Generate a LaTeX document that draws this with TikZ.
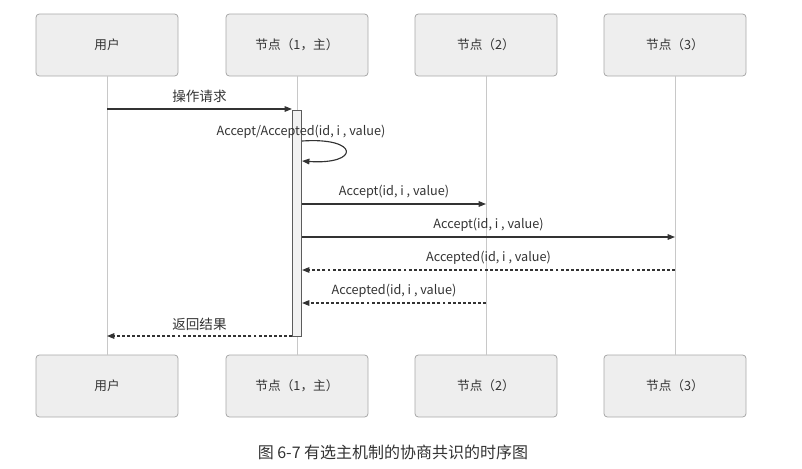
\documentclass[tikz,border=0pt]{standalone}
\usepackage{fontspec}
\setmainfont{Noto Sans CJK SC}
\usetikzlibrary{arrows.meta}
\definecolor{boxfill}{HTML}{EEEEEE}
\definecolor{boxline}{HTML}{A8A8A8}
\definecolor{lifeline}{HTML}{C8C8C8}
\definecolor{ink}{HTML}{333333}
\definecolor{barfill}{HTML}{F2F2F2}
\begin{document}
\begin{tikzpicture}[x=0.75pt,y=-0.75pt,
  actor/.style={draw=boxline,fill=boxfill,rounded corners=2.5pt,line width=0.6pt,
    minimum width=106.5pt,minimum height=46.5pt,inner sep=0pt,
    font=\fontsize{9.5}{11}\selectfont,text=ink},
  life/.style={draw=lifeline,line width=0.6pt},
  bar/.style={draw=ink!80,fill=barfill,line width=0.6pt,minimum width=7pt,inner sep=0pt},
  msg/.style={draw=ink,line width=0.85pt,-{Triangle[length=5.5pt,width=4.2pt]}},
  reply/.style={msg,dash pattern=on 2.2pt off 1.6pt},
  lbl/.style={font=\fontsize{9.5}{11}\selectfont,text=ink,inner sep=0pt},
  cnlbl/.style={font=\fontsize{10.2}{12}\selectfont,text=ink,inner sep=0pt}]
\useasboundingbox (0,0) rectangle (802,468);

% participants, top and bottom
\node[actor] (u1) at (107,45) {用户};
\node[actor] (n1) at (297,45) {节点（1，主）};
\node[actor] (n2) at (486,45) {节点（2）};
\node[actor] (n3) at (675,45) {节点（3）};
\node[actor] (u1b) at (107,386) {用户};
\node[actor] (n1b) at (297,386) {节点（1，主）};
\node[actor] (n2b) at (486,386) {节点（2）};
\node[actor] (n3b) at (675,386) {节点（3）};

% lifelines
\draw[life] (u1) -- (u1b);
\draw[life] (n1) -- (n1b);
\draw[life] (n2) -- (n2b);
\draw[life] (n3) -- (n3b);

% activation of the leader
\node[bar,minimum height=169.5pt,anchor=north] (act) at (297,110) {};

% request from the user
\draw[msg] (u1 |- 0,109) -- node[cnlbl,above=4pt] {操作请求} (act.west |- 0,109);

% self call on the leader
\coordinate (s1) at (act.east |- 0,141);
\coordinate (s2) at (act.east |- 0,161);
\draw[msg] (s1) .. controls (360,137) and (360,165) .. (s2);
\node[lbl] (selflbl) at (301,132) {Accept/Accepted(id, i , value)};

% accept requests
\draw[msg] (act.east |- 0,204) -- node[lbl,above=4pt] {Accept(id, i , value)} (n2 |- 0,204);
\draw[msg] (act.east |- 0,237) -- node[lbl,above=4pt] {Accept(id, i , value)} (n3 |- 0,237);

% replies
\draw[reply] (n3 |- 0,270) -- node[lbl,above=4pt] {Accepted(id, i , value)} (act.east |- 0,270);
\draw[reply] (n2 |- 0,303) -- node[lbl,above=4pt] {Accepted(id, i , value)} (act.east |- 0,303);
\draw[reply] (act.west |- 0,336) -- node[cnlbl,above=4pt] {返回结果} (u1 |- 0,336);

% caption
\node[font=\fontsize{12}{14}\selectfont,text=ink] (cap) at (393,452) {图 6-7 有选主机制的协商共识的时序图};
\end{tikzpicture}
\end{document}
